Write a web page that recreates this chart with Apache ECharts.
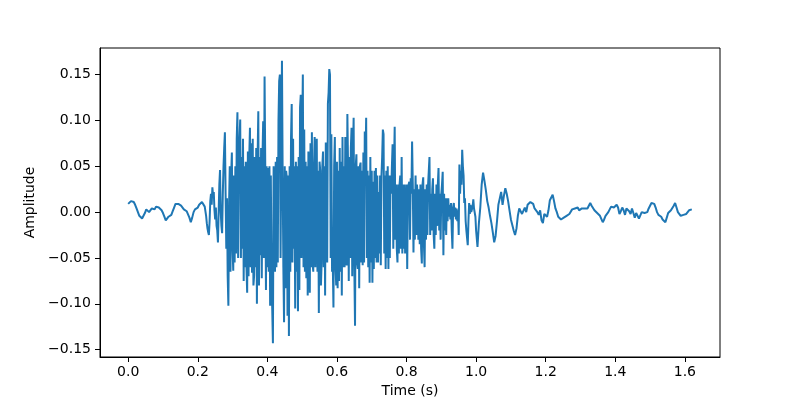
<!DOCTYPE html>
<html>
<head>
<meta charset="utf-8">
<title>Waveform</title>
<script src="https://cdn.jsdelivr.net/npm/echarts@6.0.0/dist/echarts.min.js"></script>
<style>
  html, body { margin: 0; padding: 0; background: #fff; }
  #chart { width: 800px; height: 400px; }
</style>
</head>
<body>
<div id="chart"></div>
<script>
// the quiet ends are read at 0.004 s per sample, the loud burst at 0.002 s

// 0.000 - 0.216 s
const leadInStart = 0
const leadInStep = 0.004
const leadIn = [
  0.009, 0.011, 0.012, 0.014, 0.011, 0.008, 0.004, 0.000, -0.004, -0.006, -0.007, -0.005, -0.001, 0.003, 0.002, 0.000, 0.002, 0.004, 0.005, 0.003, 0.006, 0.007, 0.005, 0.004, 0.002,
  -0.001, -0.005, -0.009, -0.008, -0.005, -0.004, -0.003, 0.001, 0.005, 0.009, 0.010, 0.009, 0.008, 0.007, 0.005, 0.003, 0.002, 0.001, -0.001, -0.006, -0.011, -0.006, 0.000, 0.003, 0.004,
  0.005, 0.008, 0.010, 0.011, 0.011
]

// 0.220 - 0.998 s
const burstStart = 0.22
const burstStep = 0.002
const burst = [
  0.006, 0.004, -0.004, -0.012, -0.018, -0.022, -0.025, -0.010, 0.012, 0.020, 0.008, 0.027, 0.018, 0.022, 0.002, -0.008, 0.005, -0.015, -0.020, -0.033, 0.000, 0.030, 0.046, 0.000, -0.015,
  -0.023, 0.020, 0.050, 0.070, 0.087, 0.020, -0.040, 0.015, -0.070, -0.102, 0.010, 0.050, -0.065, 0.040, 0.065, -0.040, -0.064, 0.040, -0.055, 0.050, -0.045, 0.080, 0.109, -0.050, 0.060,
  0.060, 0.101, -0.050, 0.060, -0.040, 0.080, -0.075, 0.050, -0.060, 0.055, -0.060, -0.088, 0.066, -0.070, 0.060, 0.092, -0.060, 0.075, -0.066, 0.080, -0.080, -0.069, 0.060, -0.060, 0.070,
  -0.100, 0.060, 0.110, -0.080, 0.060, -0.047, 0.070, -0.072, 0.060, 0.099, -0.050, 0.148, 0.050, -0.085, 0.050, -0.060, 0.048, -0.065, 0.050, -0.102, 0.040, -0.070, -0.105, -0.143, 0.050,
  0.050, -0.065, 0.055, -0.060, 0.060, -0.055, 0.100, 0.143, 0.150, -0.050, 0.060, 0.165, 0.040, -0.060, -0.120, 0.050, -0.083, 0.045, 0.037, -0.113, 0.040, -0.135, 0.050, -0.065, 0.080,
  0.118, -0.055, 0.080, -0.040, 0.050, -0.105, 0.055, -0.065, 0.050, -0.108, 0.060, -0.085, 0.114, 0.128, -0.050, 0.080, 0.150, -0.060, 0.090, -0.065, 0.055, -0.072, 0.050, -0.091, 0.066,
  0.066, -0.088, 0.075, -0.060, 0.087, -0.055, -0.065, 0.050, 0.082, -0.060, 0.050, 0.080, -0.065, 0.045, -0.110, 0.055, 0.045, -0.080, -0.055, 0.050, 0.066, -0.060, 0.050, -0.091, 0.076,
  0.077, -0.055, 0.118, 0.130, 0.156, 0.150, -0.050, 0.085, -0.065, -0.055, -0.104, 0.050, 0.082, -0.060, -0.080, 0.055, -0.083, 0.045, -0.075, 0.070, -0.065, 0.055, -0.091, 0.082, -0.060,
  0.050, -0.060, 0.082, -0.050, -0.058, 0.107, 0.050, -0.075, 0.060, -0.050, 0.070, 0.092, -0.070, 0.060, 0.103, -0.060, -0.124, 0.050, 0.063, -0.055, -0.062, 0.050, -0.083, 0.050, 0.054,
  -0.055, 0.045, -0.058, 0.065, -0.055, 0.088, 0.050, 0.103, -0.050, 0.045, -0.060, 0.040, -0.077, 0.060, -0.055, 0.045, -0.077, 0.033, -0.062, 0.045, -0.050, 0.048, -0.055, 0.040, -0.055,
  0.022, -0.045, 0.040, -0.058, 0.040, 0.060, 0.090, 0.085, -0.045, 0.040, -0.062, 0.045, -0.050, 0.050, -0.062, 0.040, -0.050, 0.040, 0.020, 0.050, 0.074, -0.040, 0.050, 0.093, -0.030,
  0.030, -0.040, -0.055, 0.030, -0.045, 0.030, 0.040, -0.040, 0.060, -0.045, 0.030, -0.040, 0.030, -0.045, -0.036, 0.030, -0.062, 0.025, 0.030, 0.033, -0.030, 0.037, 0.020, 0.077, 0.030,
  -0.044, 0.025, -0.030, 0.040, -0.025, 0.030, 0.018, -0.030, 0.025, -0.035, 0.030, -0.040, -0.056, 0.030, 0.038, -0.035, -0.060, 0.025, -0.030, 0.030, -0.025, 0.030, 0.045, 0.060, -0.025,
  0.020, -0.020, 0.025, 0.037, -0.025, -0.040, 0.020, -0.025, 0.030, -0.015, 0.030, 0.048, -0.020, 0.020, -0.030, 0.020, 0.030, 0.044, -0.047, 0.020, -0.020, 0.015, -0.025, 0.015, -0.010,
  0.015, -0.005, 0.008, -0.008, 0.010, -0.020, -0.040, 0.005, 0.010, -0.005, 0.005, -0.008, 0.004, -0.010, 0.002, -0.025, 0.052, 0.020, 0.045, 0.030,
  0.068, 0.050, 0.040, 0.010, 0.015, -0.010, -0.020, -0.028, -0.036, -0.010, 0.010, -0.002, 0.008, 0.000, -0.002, 0.006, 0.014, 0.004, 0.006, -0.005
]

// 1.000 - 1.620 s
const tailStart = 1.0
const tailStep = 0.004
const tail = [
  -0.020, -0.038, -0.012, 0.005, 0.030, 0.043, 0.034, 0.024, 0.012, 0.005, -0.004, -0.012, -0.022, -0.033, -0.026, -0.010, 0.008, 0.015, 0.022, 0.008, 0.018, 0.026, 0.020, 0.012, 0.002,
  -0.008, -0.014, -0.020, -0.025, -0.018, -0.004, 0.004, 0.002, -0.002, -0.004, 0.005, 0.000, 0.008, 0.010, 0.011, 0.013, 0.009, 0.004, 0.006, 0.000, -0.003, 0.002, -0.009, -0.012, -0.002,
  -0.001, -0.005, 0.002, 0.013, 0.015, 0.019, 0.012, 0.004, 0.000, -0.005, -0.006, -0.008, -0.009, -0.006, -0.007, -0.004, -0.006, -0.002, 0.000, 0.003, 0.005, 0.004, 0.003, 0.005, 0.002,
  0.002, 0.004, 0.003, 0.004, 0.005, 0.004, 0.006, 0.010, 0.007, 0.005, 0.002, 0.000, -0.001, 0.001, -0.004, -0.006, -0.011, -0.008, -0.004, -0.002, 0.000, 0.003, 0.006, 0.007, 0.005,
  0.006, 0.008, 0.005, -0.002, 0.001, 0.005, 0.002, -0.003, 0.004, 0.005, 0.001, -0.002, 0.004, -0.001, -0.006, -0.001, 0.000, -0.007, -0.005, 0.000, 0.002, -0.001, 0.001, 0.000, 0.004,
  0.007, 0.010, 0.008, 0.009, 0.005, 0.000, -0.003, -0.003, -0.005, -0.008, -0.009, -0.011, -0.006, -0.001, 0.000, 0.002, 0.004, 0.007, 0.010, 0.005, 0.000, -0.001, -0.004, -0.005, -0.003,
  -0.004, -0.002, 0.000, 0.002, 0.003, 0.003
]

const xTicks = [0, 0.2, 0.4, 0.6, 0.8, 1.0, 1.2, 1.4, 1.6]
const yTicks = [-0.15, -0.10, -0.05, 0.00, 0.05, 0.10, 0.15]

const toPoints = (values, start, step) => values.map((v, i) => [start + i * step, v])
const points = [
  ...toPoints(leadIn, leadInStart, leadInStep),
  ...toPoints(burst, burstStart, burstStep),
  ...toPoints(tail, tailStart, tailStep)
]

const chart = echarts.init(document.getElementById('chart'))

const axisFont = { fontSize: 14, color: '#000', fontFamily: 'DejaVu Sans, sans-serif' }
const fmtY = v => (v < 0 ? '\u2212' : '') + Math.abs(v).toFixed(2)

chart.setOption({
  animation: false,
  backgroundColor: '#fff',
  grid: {
    left: 100, right: 80, top: 48, bottom: 43,
    outerBoundsMode: 'none',
    show: true, borderColor: '#000', borderWidth: 1, backgroundColor: 'transparent'
  },
  xAxis: {
    type: 'value',
    min: -0.081,
    max: 1.701,
    name: 'Time (s)',
    nameLocation: 'middle',
    nameGap: 27,
    nameTextStyle: axisFont,
    axisLine: { show: true, onZero: false, lineStyle: { color: '#000', width: 1 } },
    axisTick: { show: true, inside: false, length: 5, lineStyle: { color: '#000' }, customValues: xTicks },
    axisLabel: { ...axisFont, margin: 8, customValues: xTicks, formatter: v => v.toFixed(1) },
    splitLine: { show: false }
  },
  yAxis: {
    type: 'value',
    min: -0.158,
    max: 0.179,
    name: 'Amplitude',
    nameLocation: 'middle',
    nameRotate: 90,
    nameGap: 52,
    nameTextStyle: axisFont,
    axisLine: { show: true, onZero: false, lineStyle: { color: '#000', width: 1 } },
    axisTick: { show: true, inside: false, length: 5, lineStyle: { color: '#000' }, customValues: yTicks },
    axisLabel: { ...axisFont, margin: 9, customValues: yTicks, formatter: fmtY },
    splitLine: { show: false }
  },
  series: [{
    type: 'line',
    data: points,
    showSymbol: false,
    sampling: 'none',
    lineStyle: { color: '#1f77b4', width: 2 },
    itemStyle: { color: '#1f77b4' }
  }]
})
</script>
</body>
</html>
